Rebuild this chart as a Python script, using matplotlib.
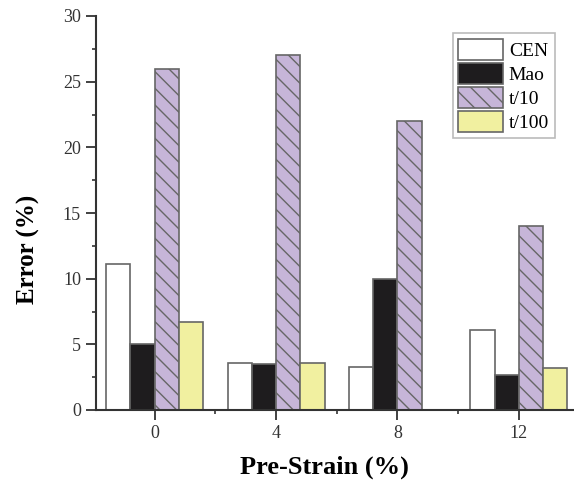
import numpy as np
import matplotlib
matplotlib.use('Agg')
import matplotlib.pyplot as plt

# Veriler
strain = [0, 4, 8, 12]
cen = [11.1, 3.6, 3.3, 6.1]
mao = [5.0, 3.5, 10.0, 2.7]
t10 = [26.0, 27.0, 22.0, 14.0]
t100 = [6.7, 3.6, 0.0, 3.2]

plt.rcParams['font.family'] = 'Liberation Serif'
plt.rcParams['hatch.color'] = '#555555'
plt.rcParams['hatch.linewidth'] = 1.0

fig = plt.figure(figsize=(5.74, 4.87), dpi=100)
ax = fig.add_axes([95.5 / 574, 77 / 487, 484 / 574, 394 / 487])

x = np.array(strain, dtype=float)
w = 0.8
ec = '#666666'
ax.bar(x - 1.2, cen, w, color='white', edgecolor=ec, linewidth=1.2, label='CEN')
ax.bar(x - 0.4, mao, w, color='#1e1c1e', edgecolor=ec, linewidth=1.2, label='Mao')
ax.bar(x + 0.4, t10, w, color='#c6b5d8', edgecolor=ec, linewidth=1.2,
       hatch='\\\\', label='t/10')
ax.bar(x + 1.2, t100, w, color='#f1f0a0', edgecolor=ec, linewidth=1.2, label='t/100')

ax.set_xlim(-1.95, 14)
ax.set_ylim(0, 30)
ax.set_xticks(strain)
ax.set_xticks([2, 6, 10], minor=True)
ax.set_yticks(np.arange(0, 31, 5))
ax.set_yticks(np.arange(2.5, 30, 5), minor=True)

for s in ['top', 'right']:
    ax.spines[s].set_visible(False)
for s in ['left', 'bottom']:
    ax.spines[s].set_linewidth(1.5)
    ax.spines[s].set_color('#333333')

ax.tick_params(axis='both', which='major', direction='out', length=7, width=1.3,
               labelsize=13, colors='#333333', labelcolor='#333333')
ax.tick_params(axis='both', which='minor', direction='out', length=3, width=1.2,
               colors='#333333')

ax.set_xlabel('Pre-Strain (%)', fontsize=19, fontweight='bold', va='center')
ax.xaxis.set_label_coords((324 - 95.5) / 484, (410 - 467) / 394)
ax.set_ylabel('Error (%)', fontsize=18, fontweight='bold', va='center')
ax.yaxis.set_label_coords((28 - 95.5) / 484, (410 - 249) / 394)

leg = ax.legend(loc='upper left', bbox_to_anchor=(357 / 484, 1 - 17 / 394),
                fontsize=14, frameon=True, fancybox=False, handlelength=2.3,
                handleheight=1.3, handletextpad=0.3, labelspacing=0.15,
                borderpad=0.3, borderaxespad=0)
leg.get_frame().set_edgecolor('#aaaaaa')
leg.get_frame().set_linewidth(1.2)

fig.savefig('out.png', dpi=100)
